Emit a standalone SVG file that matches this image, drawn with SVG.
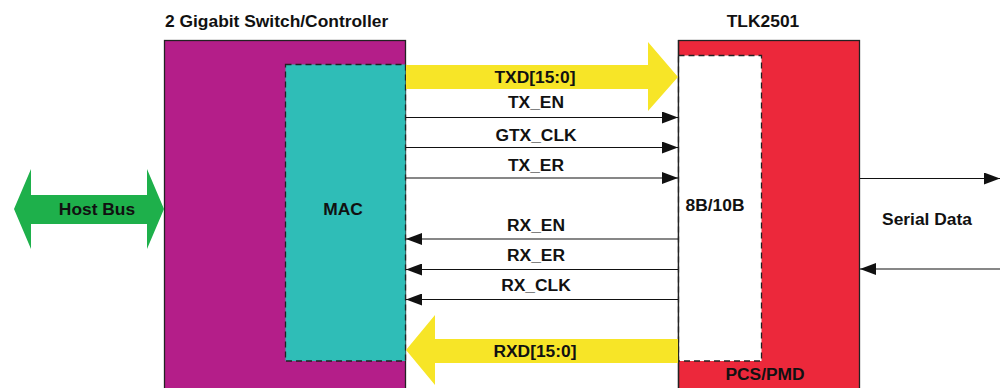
<svg xmlns="http://www.w3.org/2000/svg" width="1000" height="388" viewBox="0 0 1000 388">
<style>
text{font-family:"Liberation Sans",Arial,sans-serif;font-weight:bold;font-size:17.4px;fill:#111}
.c{text-anchor:middle}
.blk{stroke:#222;stroke-width:1.3}
.dash{stroke:#222;stroke-width:1.3;stroke-dasharray:6,4}
.ln{stroke:#111;stroke-width:1.2;fill:none}
</style>
<defs>
<marker id="ah" viewBox="0 0 16 12" refX="16" refY="6" markerWidth="16" markerHeight="12" markerUnits="userSpaceOnUse" orient="auto">
<path d="M0,0 L16,6 L0,12 Z" fill="#111"/>
</marker>
</defs>
<rect width="1000" height="388" fill="#fff"/>
<g id="switch">
<rect x="164.5" y="40.5" width="241" height="360" fill="#B41E89" class="blk"/>
<text x="165" y="27">2 Gigabit Switch/Controller</text>
</g>
<g id="mac">
<rect x="285.5" y="64.5" width="120" height="296.5" fill="#2FBDB7" class="dash"/>
<text x="343" y="215" class="c">MAC</text>
</g>
<g id="tlk2501">
<rect x="678.5" y="40.5" width="181" height="360" fill="#EC283B" class="blk"/>
<text x="763" y="27" class="c">TLK2501</text>
<text x="765" y="380" class="c">PCS/PMD</text>
</g>
<g id="pcs">
<rect x="678.5" y="55.5" width="83" height="305.5" fill="#fff" class="dash"/>
<line x1="678.5" y1="40" x2="678.5" y2="388" class="blk"/>
<text x="715" y="211" class="c">8B/10B</text>
</g>
<g id="connectors">
<polygon points="406,65 648,65 648,42 678,77 648,111 648,89 406,89" fill="#F7E527"/>
<text x="535" y="83" class="c">TXD[15:0]</text>
<line x1="406" y1="117.5" x2="678" y2="117.5" class="ln" marker-end="url(#ah)"/>
<line x1="406" y1="147.5" x2="678" y2="147.5" class="ln" marker-end="url(#ah)"/>
<line x1="406" y1="178" x2="678" y2="178" class="ln" marker-end="url(#ah)"/>
<text x="536" y="108" class="c">TX_EN</text>
<text x="536" y="141" class="c">GTX_CLK</text>
<text x="536" y="171" class="c">TX_ER</text>
<line x1="678" y1="239" x2="406" y2="239" class="ln" marker-end="url(#ah)"/>
<line x1="678" y1="269.5" x2="406" y2="269.5" class="ln" marker-end="url(#ah)"/>
<line x1="678" y1="299.5" x2="406" y2="299.5" class="ln" marker-end="url(#ah)"/>
<text x="536" y="231" class="c">RX_EN</text>
<text x="536" y="261" class="c">RX_ER</text>
<text x="536" y="291" class="c">RX_CLK</text>
<polygon points="678,339 435,339 435,315 406,350 435,385 435,363 678,363" fill="#F7E527"/>
<text x="535" y="357" class="c">RXD[15:0]</text>
<polygon points="14,209 31,169 31,195 147,195 147,169 164,209 147,249 147,224 31,224 31,249" fill="#1EB04B"/>
<text x="97" y="215" class="c">Host Bus</text>
<line x1="860" y1="178.5" x2="1000" y2="178.5" class="ln" marker-end="url(#ah)"/>
<line x1="1000" y1="269" x2="860" y2="269" class="ln" marker-end="url(#ah)"/>
<text x="927" y="225" class="c">Serial Data</text>
</g>
</svg>
